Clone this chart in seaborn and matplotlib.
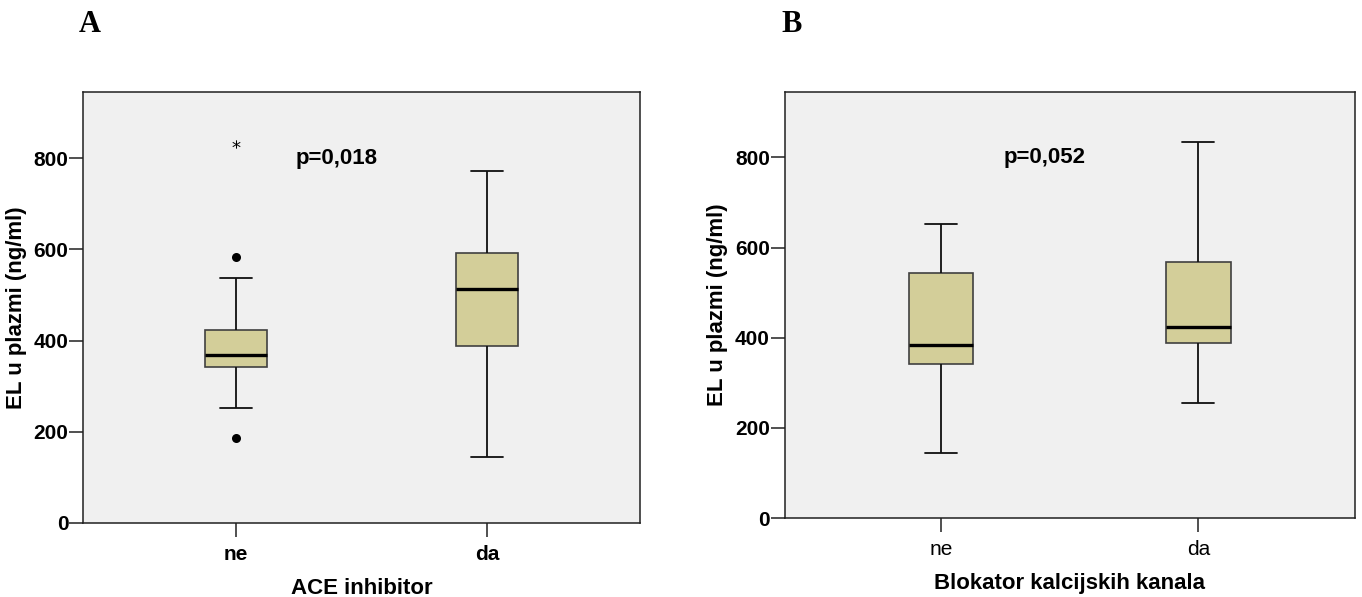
import pandas as pd
import seaborn as sns
import matplotlib.pyplot as plt

sns.set_theme(style="ticks", rc={'text.color': 'black', 'axes.labelcolor': 'black',
                                 'xtick.color': 'black', 'ytick.color': 'black',
                                 'axes.edgecolor': '#202020'})
plt.rcParams['font.family'] = ['Liberation Sans', 'DejaVu Sans']

groups = ['ne', 'da']

# A: ACE inhibitor -- five-number summaries
ace_whislo = [253, 144]
ace_q1 = [342, 388]
ace_med = [369, 513]
ace_q3 = [422, 592]
ace_whishi = [538, 772]
ace_out_grp = ['ne', 'ne']
ace_out_val = [187, 584]
ace_ext_grp = ['ne']
ace_ext_val = [830]

# B: Blokator kalcijskih kanala
bkk_whislo = [144, 255]
bkk_q1 = [341, 388]
bkk_med = [384, 423]
bkk_q3 = [544, 568]
bkk_whishi = [652, 833]

yticks = [0, 200, 400, 600, 800]

box_color = '#d3ce99'
bg_color = '#f0f0f0'


def summary_frame(lo, q1, med, q3, hi):
    rows = []
    for i, g in enumerate(groups):
        for v in (lo[i], q1[i], med[i], q3[i], hi[i]):
            rows.append({'grupa': g, 'EL': v})
    return pd.DataFrame(rows)


def draw_panel(ax, df, xlabel, ptext, bold_xticks):
    ax.set_facecolor(bg_color)
    sns.boxplot(data=df, x='grupa', y='EL', order=groups, whis=(0, 100),
                width=0.25, color=box_color, saturation=1, showfliers=False,
                linecolor='#202020', linewidth=1.2,
                boxprops=dict(edgecolor='#404040', linewidth=1.2),
                medianprops=dict(color='black', linewidth=2.4),
                whiskerprops=dict(color='#101010', linewidth=1.3),
                capprops=dict(color='#101010', linewidth=1.3),
                ax=ax)
    ax.set_xlim(-0.61, 1.61)
    ax.set_ylim(0, 945)
    ax.set_yticks(yticks)
    ax.set_xlabel(xlabel, fontsize=16, fontweight='bold', labelpad=10)
    ax.set_ylabel('EL u plazmi (ng/ml)', fontsize=16, fontweight='bold', labelpad=5)
    ax.tick_params(axis='both', length=10, width=1.1, color='#202020')
    ax.tick_params(axis='y', pad=0.5)
    ax.tick_params(axis='x', pad=6)
    for lab in ax.get_yticklabels():
        lab.set_fontsize(15)
        lab.set_fontweight('bold')
    for lab in ax.get_xticklabels():
        lab.set_fontsize(15)
        lab.set_fontweight('bold' if bold_xticks else 'normal')
    for sp in ax.spines.values():
        sp.set_visible(True)
        sp.set_color('#202020')
        sp.set_linewidth(1.1)
    ax.text(0.4, 800, ptext, fontsize=16, fontweight='bold', ha='center', va='center')


fig = plt.figure(figsize=(13.62, 5.97), dpi=100)
ax_a = fig.add_axes([0.0609, 0.124, 0.409, 0.722])
ax_b = fig.add_axes([0.576, 0.132, 0.419, 0.714])

draw_panel(ax_a, summary_frame(ace_whislo, ace_q1, ace_med, ace_q3, ace_whishi),
           'ACE inhibitor', 'p=0,018', True)
sns.stripplot(x=ace_out_grp, y=ace_out_val, order=groups, jitter=False,
              color='black', size=6.5, ax=ax_a)
sns.stripplot(x=ace_ext_grp, y=ace_ext_val, order=groups, jitter=False,
              color='black', marker='$*$', size=6, ax=ax_a)
ax_a.set_xlim(-0.61, 1.61)

draw_panel(ax_b, summary_frame(bkk_whislo, bkk_q1, bkk_med, bkk_q3, bkk_whishi),
           'Blokator kalcijskih kanala', 'p=0,052', False)

fig.text(90 / 1362, 1 - 25 / 597, 'A', fontsize=22, fontweight='bold',
         family='Liberation Serif', ha='center', va='center')
fig.text(792 / 1362, 1 - 25 / 597, 'B', fontsize=22, fontweight='bold',
         family='Liberation Serif', ha='center', va='center')

fig.savefig('out.png', dpi=100, facecolor='white')
